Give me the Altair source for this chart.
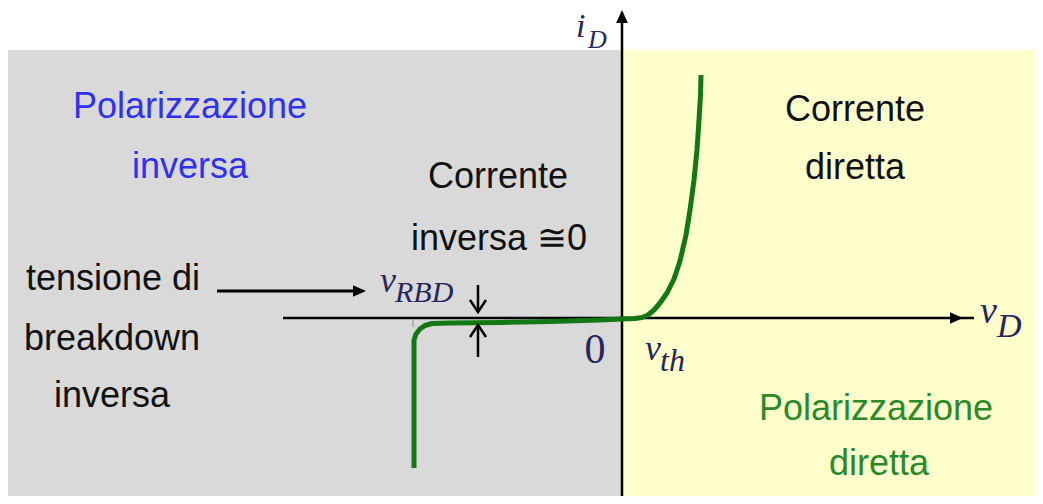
import altair as alt
import pandas as pd

# ---- data (units: schematic coordinates, origin at the axes' crossing) ----
curve_x = [-208, -208, -206, -202, -197, -190, -172, -122, -72, -22, 0, 13, 20, 26, 32,
           38, 45, 52, 58, 64, 68, 72, 75, 77, 78.5, 79]
curve_y = [-150, -22, -16, -11, -7.5, -5.5, -5, -4.5, -3.5, -2, -1, -0.5, 0.5, 3, 8,
           15, 25, 39, 57, 83, 108, 138, 168, 198, 223, 243]

region_x = [-614, 0]
region_x2 = [0, 413]
region_colors = ["#d9d9d9", "#ffffcc"]

sans_text = ["Polarizzazione", "inversa", "Corrente", "inversa ≅0", "Corrente", "diretta",
             "tensione di", "breakdown", "inversa", "Polarizzazione", "diretta"]
sans_x = [-432, -432, -124, -123, 233, 233, -509, -510, -510, 254, 257]
sans_y = [200, 140, 130, 68, 197, 139, 28, -32, -89, -102, -157]
sans_col = ["#3030f0", "#3030f0", "#111111", "#111111", "#111111", "#111111",
            "#111111", "#111111", "#111111", "#2a8a2a", "#2a8a2a"]

math_text = ["i", "D", "v", "D", "v", "RBD", "v", "th"]
math_x = [-46, -34, 358, 375, -242, -227, 23, 38]
math_y = [281, 270, -5, -19, 26, 16, -42, -53]
math_size = [34, 26, 38, 34, 36, 30, 36, 32]

XS = alt.Scale(domain=[-614, 413], nice=False, zero=False)
YS = alt.Scale(domain=[-178, 310], nice=False, zero=False)

def X(f="x"):
    return alt.X(f + ":Q", scale=XS, axis=None)

def Y(f="y"):
    return alt.Y(f + ":Q", scale=YS, axis=None)

regions = pd.DataFrame({"x": region_x, "x2": region_x2, "y": [268, 268], "y2": [-178, -178],
                        "c": region_colors})
bg = alt.Chart(regions).mark_rect().encode(
    x=X(), x2="x2:Q", y=Y(), y2="y2:Q", color=alt.Color("c:N", scale=None))

# axes and annotation shafts
rules = pd.DataFrame({
    "x":  [-339, 0, -405, -144, -144, -209],
    "x2": [352, 0, -262, -144, -144, -209],
    "y":  [0, -178, 27, 33, -9, -1],
    "y2": [0, 296, 27, 8, -39, -9],
    "w":  [2.5, 2.5, 3, 2.5, 2.5, 1.5],
    "c":  ["#000000", "#000000", "#000000", "#000000", "#000000", "#aaaaaa"],
})
rule_layer = alt.Chart(rules).mark_rule().encode(
    x=X(), x2="x2:Q", y=Y(), y2="y2:Q",
    strokeWidth=alt.StrokeWidth("w:Q", scale=None),
    color=alt.Color("c:N", scale=None))

# filled arrowheads
right_heads = pd.DataFrame({"x": [341, -256], "y": [0, 27]})
right_layer = alt.Chart(right_heads).mark_point(
    shape="M0,0 L-2,-0.9 L-2,0.9 Z", filled=True, color="#000000", opacity=1, size=169
).encode(x=X(), y=Y())
up_heads = pd.DataFrame({"x": [0], "y": [308]})
up_layer = alt.Chart(up_heads).mark_point(
    shape="M0,0 L-0.9,2 L0.9,2 Z", filled=True, color="#000000", opacity=1, size=169
).encode(x=X(), y=Y())

# open arrowheads (small current arrows)
down_open = pd.DataFrame({"x": [-144], "y": [6]})
down_layer = alt.Chart(down_open).mark_point(
    shape="M-1,-1.5 L0,0 L1,-1.5", filled=False, color="#000000", opacity=1,
    strokeWidth=2.5, size=256
).encode(x=X(), y=Y())
up_open = pd.DataFrame({"x": [-144], "y": [-7]})
upo_layer = alt.Chart(up_open).mark_point(
    shape="M-1,1.5 L0,0 L1,1.5", filled=False, color="#000000", opacity=1,
    strokeWidth=2.5, size=256
).encode(x=X(), y=Y())

curve = pd.DataFrame({"x": curve_x, "y": curve_y, "o": list(range(len(curve_x)))})
curve_layer = alt.Chart(curve).mark_line(color="#137813", strokeWidth=5, strokeCap="butt",
                                         strokeJoin="round").encode(
    x=X(), y=Y(), order="o:Q")

sans = pd.DataFrame({"t": sans_text, "x": sans_x, "y": sans_y, "c": sans_col})
sans_layer = alt.Chart(sans).mark_text(
    font="Liberation Sans", fontSize=36, align="center", baseline="alphabetic"
).encode(x=X(), y=Y(), text="t:N", color=alt.Color("c:N", scale=None))

math = pd.DataFrame({"t": math_text, "x": math_x, "y": math_y, "s": math_size})
math_layer = alt.Chart(math).mark_text(
    font="Liberation Serif", fontStyle="italic", align="left", baseline="alphabetic",
    color="#26265e"
).encode(x=X(), y=Y(), text="t:N", size=alt.Size("s:Q", scale=None))

zero = pd.DataFrame({"t": ["0"], "x": [-27], "y": [-45]})
zero_layer = alt.Chart(zero).mark_text(
    font="Liberation Serif", fontSize=42, align="center", baseline="alphabetic",
    color="#26265e"
).encode(x=X(), y=Y(), text="t:N")

chart = alt.layer(
    bg, rule_layer, right_layer, up_layer, curve_layer, down_layer, upo_layer,
    sans_layer, math_layer, zero_layer
).properties(
    width=1027, height=488, padding=0, autosize=alt.AutoSizeParams(type="none"),
    background="#ffffff"
).configure_view(stroke=None)

chart.save("out.html", embed_options={"renderer": "svg", "actions": False})
